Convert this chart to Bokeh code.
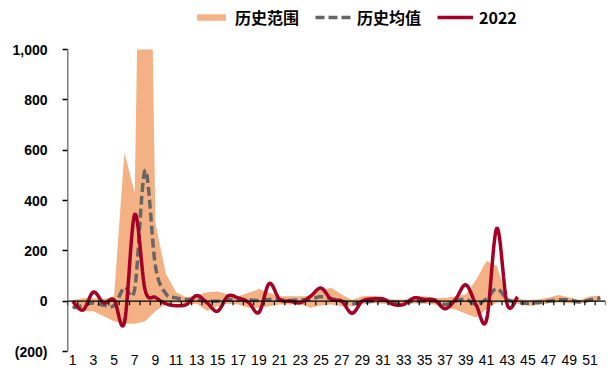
import numpy as np
from bokeh.plotting import figure
from bokeh.models import Range1d, FixedTicker, NumeralTickFormatter, Span, Legend, LegendItem
from bokeh.embed import file_html
from bokeh.resources import INLINE

# ---------------- data ----------------
weeks = list(range(1, 53))
range_upper = [5, 12, 12, 8, 20, 590, 430, 3000, 310, 110,
               35, 15, 25, 35, 38, 27, 20, 33, 48, 33,
               20, 20, 20, 20, 46, 52, 26, 5, 20, 22,
               13, 7, 7, 16, 20, 13, 13, 20, 26, 85,
               160, 140, 10, 10, 5, 8, 15, 25, 15, 5,
               20, 22]
range_lower = [-30, -40, -40, -60, -80, -90, -90, -80, -40, -10,
               -5, -13, -10, -39, -20, -10, -13, -26, -26, -20,
               -13, -13, -13, -26, -17, -13, -20, -20, -9, -8,
               -10, -17, -13, -9, -10, -13, -26, -33, -50, -65,
               -30, -5, -5, -10, -18, -15, -8, -5, -8, -10,
               -3, 0]
hist_mean = [-26, -17, -7, -16, -17, 55, 50, 520, 140, 30,
             13, 7, 5, 0, 0, 5, 5, 5, 3, 7,
             5, 3, 5, 8, 18, 10, 0, -10, -5, 0,
             3, -3, -5, 0, 0, 0, -13, 0, 7, -12,
             10, 50, 8, -5, -8, -5, 0, 5, 5, -3,
             5, 13]
weeks_2022 = list(range(1, 45))
val_2022 = [0, -35, 36, -7, 5, -85, 345, 45, 15, -10,
            -18, -13, 22, -7, -40, 20, 13, -5, -45, 70,
            7, 0, -6, 20, 52, 7, 0, -48, 0, 9,
            9, -13, -13, 13, 7, 4, -30, 7, 65, -15,
            -75, 290, -13, 17]
y_ticks = [-200, 0, 200, 400, 600, 800, 1000]
x_ticks = list(range(1, 52, 2))
labels = ["历史范围", "历史均值", "2022"]


def smooth(xs, ys, n=20):
    """Excel-like smoothed line (Bezier through the points)."""
    xs = np.asarray(xs, float)
    ys = np.asarray(ys, float)
    px = np.concatenate([[xs[0]], xs, [xs[-1]]])
    py = np.concatenate([[ys[0]], ys, [ys[-1]]])
    outx, outy = [], []
    t = np.linspace(0, 1, n, endpoint=False)
    for i in range(1, len(px) - 2):
        x0, x1, x2, x3 = px[i - 1], px[i], px[i + 1], px[i + 2]
        y0, y1, y2, y3 = py[i - 1], py[i], py[i + 1], py[i + 2]
        cx1, cy1 = x1 + (x2 - x0) / 6, y1 + (y2 - y0) / 6
        cx2, cy2 = x2 - (x3 - x1) / 6, y2 - (y3 - y1) / 6
        a = (1 - t) ** 3
        b = 3 * (1 - t) ** 2 * t
        c = 3 * (1 - t) * t ** 2
        d = t ** 3
        outx.extend(a * x1 + b * cx1 + c * cx2 + d * x2)
        outy.extend(a * y1 + b * cy1 + c * cy2 + d * y2)
    outx.append(xs[-1])
    outy.append(ys[-1])
    return outx, outy


def clip_top(xs, ys, top):
    """Clip a piecewise-linear series at the axis maximum."""
    ox, oy = [xs[0]], [min(ys[0], top)]
    for i in range(1, len(xs)):
        y0, y1 = ys[i - 1], ys[i]
        if (y0 - top) * (y1 - top) < 0:
            ox.append(xs[i - 1] + (top - y0) / (y1 - y0) * (xs[i] - xs[i - 1]))
            oy.append(top)
        ox.append(xs[i])
        oy.append(min(y1, top))
    return ox, oy


FONT = "Liberation Sans"
Y_MIN, Y_MAX = y_ticks[0], y_ticks[-1]
TOP_PX, AXIS_PX = 49, 302          # pixels above 1,000 (legend room) and axis length
y_top = Y_MAX + TOP_PX * (Y_MAX - Y_MIN) / AXIS_PX
tick_len = 4 * (Y_MAX - Y_MIN) / AXIS_PX

p = figure(frame_width=538, frame_height=TOP_PX + AXIS_PX,
           min_border_left=67, min_border_right=1,
           min_border_top=0, min_border_bottom=20,
           x_range=Range1d(weeks[0] - 0.5, weeks[-1] + 0.5),
           y_range=Range1d(Y_MIN, y_top),
           output_backend="svg", toolbar_location=None)

bx, bu = clip_top(weeks, range_upper, Y_MAX)
bl = np.interp(bx, weeks, range_lower)
band = p.varea(x=bx, y1=bl, y2=bu, fill_color="#F4B183")
mx, my = smooth(weeks, hist_mean)
mean_r = p.line(mx, my, line_color="#666666", line_width=3.5, line_dash="9 4")
rx, ry = smooth(weeks_2022, val_2022)
red_r = p.line(rx, ry, line_color="#A50026", line_width=3.5)

# zero line with category boundary ticks
p.add_layout(Span(location=0, dimension="width", line_color="black", line_width=1.3))
bounds = [weeks[0] - 0.5] + [w + 0.5 for w in weeks]
p.segment(x0=bounds, y0=[0] * len(bounds), x1=bounds, y1=[-tick_len] * len(bounds),
          line_color="black", line_width=1.2)

# y axis line only from min to max tick
p.segment(x0=[weeks[0] - 0.5], y0=[Y_MIN], x1=[weeks[0] - 0.5], y1=[Y_MAX],
          line_color="black", line_width=1.5)

# axes
p.xgrid.visible = False
p.ygrid.visible = False
p.outline_line_color = None

p.yaxis.ticker = FixedTicker(ticks=y_ticks)
p.yaxis.formatter = NumeralTickFormatter(format="(0,0)")
p.yaxis.axis_line_color = None
p.yaxis.major_tick_out = 5
p.yaxis.major_tick_in = 0
p.yaxis.minor_tick_line_color = None
p.yaxis.major_tick_line_width = 1.3
p.yaxis.major_label_text_font = FONT
p.yaxis.major_label_text_font_size = "14px"
p.yaxis.major_label_text_font_style = "bold"
p.yaxis.major_label_text_color = "black"
p.yaxis.major_label_standoff = 15

p.xaxis.ticker = FixedTicker(ticks=x_ticks)
p.xaxis.axis_line_color = None
p.xaxis.major_tick_line_color = None
p.xaxis.major_tick_out = 0
p.xaxis.major_tick_in = 0
p.xaxis.minor_tick_line_color = None
p.xaxis.major_label_text_font = FONT
p.xaxis.major_label_text_font_size = "14px"
p.xaxis.major_label_text_color = "black"
p.xaxis.major_label_standoff = 3

legend = Legend(items=[LegendItem(label=labels[0], renderers=[band]),
                       LegendItem(label=labels[1], renderers=[mean_r]),
                       LegendItem(label=labels[2], renderers=[red_r])],
                orientation="horizontal", location=(126, TOP_PX + AXIS_PX - 29),
                glyph_width=36, glyph_height=8, label_standoff=6, spacing=16,
                padding=0, margin=0, border_line_color=None,
                background_fill_alpha=0,
                label_text_font="Noto Sans CJK SC", label_text_font_size="16px",
                label_text_font_style="bold", label_text_color="black")
p.add_layout(legend, "center")

open("out.html", "w").write(file_html(p, INLINE))
